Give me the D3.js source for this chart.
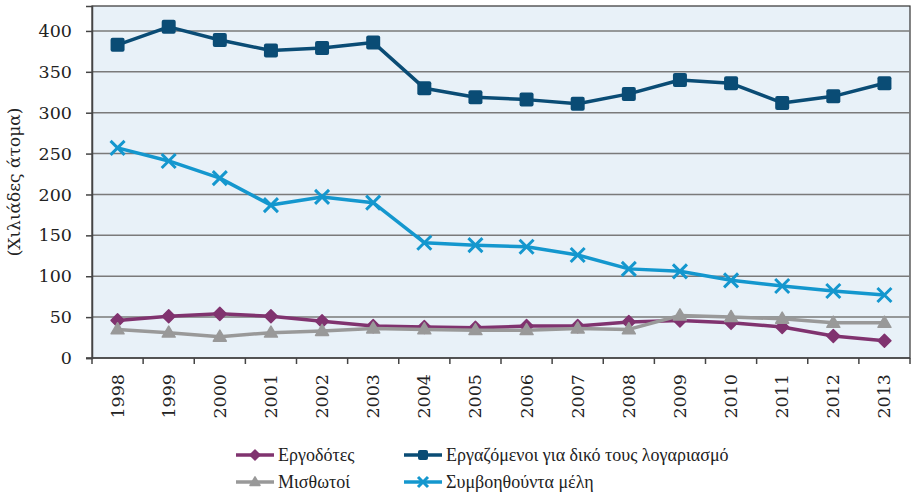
<!DOCTYPE html>
<html>
<head>
<meta charset="utf-8">
<script src="https://cdn.jsdelivr.net/npm/d3@7"></script>
<style>
  body { margin: 0; background: #fff; }
  svg text { font-family: "DejaVu Serif", serif; fill: #222; }
</style>
</head>
<body>
<div id="chart"></div>
<script>
var years = ["1998", "1999", "2000", "2001", "2002", "2003", "2004", "2005",
  "2006", "2007", "2008", "2009", "2010", "2011", "2012", "2013"];

var employers = [46, 51, 54, 51, 45, 39, 38, 37, 39, 39, 44, 46, 43, 38, 27, 21];
var ownAccount = [383, 405, 389, 376, 379, 386, 330, 319, 316, 311, 323, 340, 336, 312, 320, 336];
var employees = [35, 31, 26, 31, 33, 36, 35, 34, 34, 36, 35, 52, 50, 48, 43, 43];
var helpers = [257, 241, 220, 187, 197, 190, 141, 138, 136, 126, 109, 106, 95, 88, 82, 77];

var yTicks = [0, 50, 100, 150, 200, 250, 300, 350, 400];

var series = [
  {name: "Εργοδότες", values: employers, color: "#80336F", marker: "diamond"},
  {name: "Εργαζόμενοι για δικό τους λογαριασμό", values: ownAccount, color: "#0A4C75", marker: "square"},
  {name: "Μισθωτοί", values: employees, color: "#999999", marker: "triangle"},
  {name: "Συμβοηθούντα μέλη", values: helpers, color: "#1497CE", marker: "cross"}
];

var W = 912, H = 498;
var pLeft = 92, pRight = 910, pTop = 6, pBottom = 358;

var svg = d3.select("#chart").append("svg")
  .attr("width", W)
  .attr("height", H);

var x = d3.scaleBand().domain(years).range([pLeft, pRight]);
var y = d3.scaleLinear().domain([0, 430.5]).range([pBottom, pTop]);

// plot background
svg.append("rect")
  .attr("x", pLeft).attr("y", pTop)
  .attr("width", pRight - pLeft).attr("height", pBottom - pTop)
  .attr("fill", "#E8F1F8")
  .attr("stroke", "#333").attr("stroke-width", 1.2);

// gridlines
svg.append("g")
  .selectAll("line")
  .data(yTicks.slice(1))
  .enter()
  .append("line")
  .attr("x1", pLeft).attr("x2", pRight)
  .attr("y1", function(d) { return y(d); })
  .attr("y2", function(d) { return y(d); })
  .attr("stroke", "#7a7a7a")
  .attr("stroke-width", 1.5);

// y axis
var yAxis = svg.append("g")
  .attr("transform", "translate(" + pLeft + ",0)")
  .call(d3.axisLeft(y).tickValues(yTicks).tickSize(6).tickPadding(14));
yAxis.select(".domain").attr("stroke", "#444").attr("stroke-width", 1.5);
yAxis.selectAll(".tick line").attr("stroke", "#444").attr("stroke-width", 1.5);
yAxis.selectAll("text")
  .style("font-size", "17.5px")
  .style("font-family", "DejaVu Serif")
  .attr("fill", "#222");

// x axis, ticks between categories
var xAxis = svg.append("g")
  .attr("transform", "translate(0," + pBottom + ")");
xAxis.append("line")
  .attr("x1", pLeft - 6).attr("x2", pRight)
  .attr("stroke", "#444").attr("stroke-width", 1.5);
xAxis.selectAll(".xt")
  .data(years.concat(["end"]))
  .enter()
  .append("line")
  .attr("x1", function(d, i) { return pLeft + i * x.step(); })
  .attr("x2", function(d, i) { return pLeft + i * x.step(); })
  .attr("y1", 0).attr("y2", 6)
  .attr("stroke", "#444").attr("stroke-width", 1.5);
xAxis.selectAll(".xl")
  .data(years)
  .enter()
  .append("text")
  .attr("transform", function(d) {
    return "translate(" + (x(d) + x.bandwidth() / 2 + 6) + ",16) rotate(-90)";
  })
  .attr("text-anchor", "end")
  .style("font-size", "17.5px")
  .text(function(d) { return d; });

// y title
svg.append("text")
  .attr("transform", "translate(20," + ((pTop + pBottom) / 2) + ") rotate(-90)")
  .attr("text-anchor", "middle")
  .style("font-size", "17px")
  .text("(Χιλιάδες άτομα)");

function drawMarker(g, type, color, size) {
  var s = size / 2;
  if (type === "cross") {
    g.append("path")
      .attr("d", "M" + (-s) + "," + (-s) + "L" + s + "," + s + "M" + (-s) + "," + s + "L" + s + "," + (-s))
      .attr("stroke", color).attr("stroke-width", 3).attr("fill", "none");
  } else if (type === "square") {
    g.append("rect")
      .attr("x", -s).attr("y", -s)
      .attr("width", size).attr("height", size)
      .attr("rx", 2)
      .attr("fill", color);
  } else if (type === "diamond") {
    g.append("path")
      .attr("d", "M0," + (-s) + "L" + s + ",0L0," + s + "L" + (-s) + ",0Z")
      .attr("fill", color)
      .attr("stroke", color).attr("stroke-width", 1.5)
      .attr("stroke-linejoin", "round");
  } else {
    var h = size * 0.85;
    g.append("path")
      .attr("d", "M0," + (-h * 0.6) + "L" + s + "," + (h * 0.4) + "L" + (-s) + "," + (h * 0.4) + "Z")
      .attr("fill", color)
      .attr("stroke", color).attr("stroke-width", 1.5)
      .attr("stroke-linejoin", "round");
  }
}

var line = d3.line()
  .x(function(d, i) { return x(years[i]) + x.bandwidth() / 2; })
  .y(function(d) { return y(d); });

var markerSize = {diamond: 13, square: 14, triangle: 13, cross: 14};

series.forEach(function(s) {
  var g = svg.append("g");
  g.append("path")
    .attr("d", line(s.values))
    .attr("fill", "none")
    .attr("stroke", s.color)
    .attr("stroke-width", 3.5)
    .attr("stroke-linejoin", "round");
  s.values.forEach(function(v, i) {
    var m = g.append("g")
      .attr("transform", "translate(" + (x(years[i]) + x.bandwidth() / 2) + "," + y(v) + ")");
    drawMarker(m, s.marker, s.color, markerSize[s.marker]);
  });
});

// legend
var legendPos = [
  {lx: 236, ty: 455},
  {lx: 404, ty: 455},
  {lx: 236, ty: 482},
  {lx: 404, ty: 482}
];
series.forEach(function(s, i) {
  var p = legendPos[i];
  var g = svg.append("g").attr("transform", "translate(" + p.lx + "," + p.ty + ")");
  g.append("line")
    .attr("x1", 0).attr("x2", 38)
    .attr("stroke", s.color).attr("stroke-width", 3.5);
  var m = g.append("g").attr("transform", "translate(19,0)");
  drawMarker(m, s.marker, s.color, 10);
  g.append("text")
    .attr("x", 42).attr("y", 6)
    .style("font-size", "18px")
    .style("font-family", "Liberation Serif")
    .text(s.name);
});
</script>
</body>
</html>
